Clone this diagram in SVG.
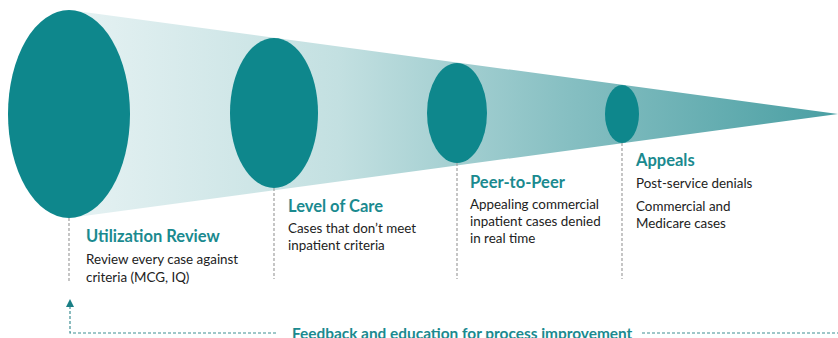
<svg xmlns="http://www.w3.org/2000/svg" width="838" height="338" viewBox="0 0 838 338">
<defs>
<linearGradient id="cone" x1="69" y1="0" x2="838" y2="0" gradientUnits="userSpaceOnUse">
<stop offset="0" stop-color="#e6f2f3"/>
<stop offset="0.35" stop-color="#c3e0e1"/>
<stop offset="0.65" stop-color="#86bfc2"/>
<stop offset="1" stop-color="#4a9fa3"/>
</linearGradient>
<marker id="arr" markerWidth="8" markerHeight="8" refX="4" refY="4" orient="auto" markerUnits="userSpaceOnUse">
<path d="M0,0 L8,4 L0,8 z" fill="#1a7f85"/>
</marker>
<style>
.disk{fill:#0e878c}
.title{font-family:Lato,"Liberation Sans",sans-serif;font-weight:bold;font-size:16.5px;fill:#1a8a8f}
.body{font-family:Lato,"Liberation Sans",sans-serif;font-size:13.4px;fill:#222}
.guide{stroke:#a0a0a0;stroke-width:1.2;stroke-dasharray:3 2;fill:none}
.fb{stroke:#3f8f94;stroke-width:1.2;stroke-dasharray:3 2;fill:none}
.fbtext{font-family:Lato,"Liberation Sans",sans-serif;font-weight:bold;font-size:15.4px;fill:#1a8a8f}
</style>
</defs>
<polygon points="69,10 838,114 69,218" fill="url(#cone)"/>
<g id="connectors">
<line class="guide" x1="69" y1="218" x2="69" y2="282"/>
<line class="guide" x1="274" y1="188" x2="274" y2="279"/>
<line class="guide" x1="457" y1="163" x2="457" y2="279"/>
<line class="guide" x1="622" y1="143" x2="622" y2="279"/>
<path class="fb" d="M276,333 H70 V303" marker-end="url(#arr)"/>
<line class="fb" x1="642" y1="333" x2="838" y2="333"/>
</g>
<g id="utilization-review">
<ellipse class="disk" cx="69" cy="114" rx="61" ry="104"/>
<text class="title" x="86" y="242">Utilization Review</text>
<text class="body" x="86" y="264">Review every case against</text>
<text class="body" x="86" y="282">criteria (MCG, IQ)</text>
</g>
<g id="level-of-care">
<ellipse class="disk" cx="274" cy="113" rx="44" ry="75"/>
<text class="title" x="288" y="212">Level of Care</text>
<text class="body" x="288" y="233">Cases that don’t meet</text>
<text class="body" x="288" y="250">inpatient criteria</text>
</g>
<g id="peer-to-peer">
<ellipse class="disk" cx="457" cy="113" rx="30" ry="50"/>
<text class="title" x="470" y="188">Peer-to-Peer</text>
<text class="body" x="470" y="209">Appealing commercial</text>
<text class="body" x="470" y="226">inpatient cases denied</text>
<text class="body" x="470" y="243">in real time</text>
</g>
<g id="appeals">
<ellipse class="disk" cx="622" cy="114" rx="17" ry="29"/>
<text class="title" x="636" y="166">Appeals</text>
<text class="body" x="636" y="188">Post-service denials</text>
<text class="body" x="636" y="211">Commercial and</text>
<text class="body" x="636" y="228">Medicare cases</text>
</g>
<g id="feedback">
<text class="fbtext" x="292" y="339">Feedback and education for process improvement</text>
</g>
</svg>
